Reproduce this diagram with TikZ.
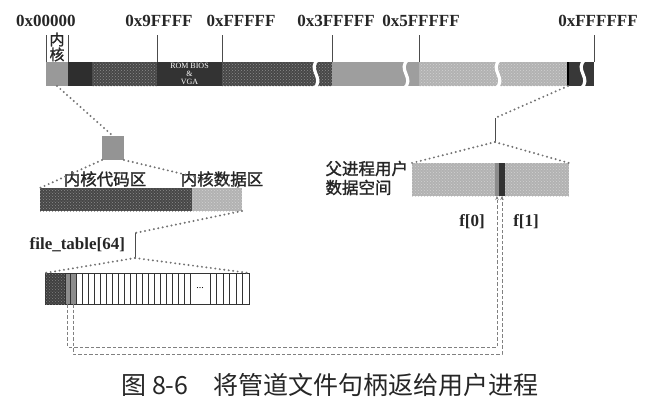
\documentclass[tikz,border=0pt]{standalone}
\usepackage{fontspec}
\setmainfont{Liberation Serif}
\newfontfamily\cjk{Noto Sans CJK SC}
\newfontfamily\cjkb[FakeBold=1.5]{Noto Sans CJK SC}
\usetikzlibrary{positioning,arrows.meta,patterns}

\newcommand{\gapwave}[1]{\draw[white, line width=3.2pt] ({#1+3},59) .. controls ({#1-11},69) and ({#1+11},79) .. ({#1-3},89);}

\begin{document}
\begin{tikzpicture}[x=1pt,y=-1pt]
\tikzstyle{every node}=[inner sep=0pt, outer sep=0pt]
\tikzstyle{seg}=[rectangle, anchor=north west, minimum height=24]
\tikzstyle{hseg}=[seg, fill=black!72, postaction={pattern=crosshatch dots, pattern color=black!45}]
\tikzstyle{lseg}=[seg, fill=black!30, postaction={pattern=crosshatch dots, pattern color=black!18}]
\tikzstyle{addr}=[font=\fontsize{17}{17}\selectfont\bfseries, text=black!85]
\tikzstyle{hz}=[font=\cjkb\fontsize{16.5}{19}\selectfont, text=black!85]
\tikzstyle{dotln}=[draw=black!55, line width=2.2pt, line cap=round, dash pattern=on 0pt off 4.5pt]
\tikzstyle{pipeln}=[draw=black!50, line width=0.7pt, dash pattern=on 3.5pt off 2pt, -{Stealth[length=4pt,width=3.5pt]}]
\tikzstyle{tickln}=[draw=black!70, line width=0.6pt]
\tikzstyle{fcell}=[rectangle, draw=black!80, line width=0.6pt, anchor=north west, minimum width=6, minimum height=31]
\useasboundingbox (0,0) rectangle (654,408);

% physical memory
\node[seg, fill=black!40, minimum width=22] (kern) at (46,62) {};
\node[seg, fill=black!82, minimum width=24] (kdark) at (68,62) {};
\node[hseg, minimum width=65] (lowmem) at (92,62) {};
\node[seg, fill=black!80, minimum width=65, text=white, align=center,
      font=\fontsize{8}{7.9}\selectfont] (rom) at (157,62) {ROM BIOS\\\&\\VGA};
\node[hseg, minimum width=110] (extlow) at (222,62) {};
\node[seg, fill=black!38, minimum width=87] (ext1) at (332,62) {};
\node[lseg, minimum width=149] (ext2) at (419,62) {};
\node[seg, fill=black!78, minimum width=26] (himem) at (568,62) {};
\draw[black, line width=1.2pt] (himem.north west) -- (himem.south west);
\foreach \x in {316,406,498,583}{\gapwave{\x}}

\foreach \x in {46,68,157,222,332,419,594}{\draw[tickln] (\x,35) -- (\x,62);}
\node[addr] (a0) at (46,21) {0x00000};
\node[addr] (a1) at (159,21) {0x9FFFF};
\node[addr] (a2) at (241,21) {0xFFFFF};
\node[addr] (a3) at (336,21) {0x3FFFFF};
\node[addr] (a4) at (421,21) {0x5FFFFF};
\node[addr] (a5) at (598,21) {0xFFFFFF};
\node[hz, align=center, font=\cjkb\fontsize{15}{15}\selectfont] (kname) at (57,47) {内\\核};

% kernel
\node[seg, fill=black!42, minimum width=22] (ksq) at (102,136) {};
\node[hseg, minimum width=152, minimum height=23] (kcode) at (40,188) {};
\node[lseg, minimum width=50, minimum height=23] (kdata) at (192,188) {};
\node[hz] (kcname) at (105,179) {内核代码区};
\node[hz] (kdname) at (222,179) {内核数据区};
\draw[dotln] (kern.south) -- (ksq.north);
\draw[dotln] (ksq.south west) -- (kcode.north west);
\draw[dotln] (ksq.south east) -- (kdata.north east);

% file_table
\coordinate (ft1) at (135,233);
\coordinate (ft2) at (135,258);
\draw[tickln] (ft1) -- (ft2);
\node[addr, anchor=east] (ftname) at (125,245) {file\_table[64]};
\draw[dotln] (kdata.south east) -- (ft1);
\node[rectangle, draw=black!80, line width=0.6pt, anchor=north west,
      minimum width=204, minimum height=31] (ftab) at (45,273) {};
\node[fcell, fill=black!75, postaction={pattern=crosshatch dots, pattern color=black!50}, minimum width=20] (fdark) at (45,273) {};
\node[fcell, fill=black!45, minimum width=5.5] (fz0) at (65,273) {};
\node[fcell, fill=black!45, minimum width=5.5] (fz1) at (70.5,273) {};
\foreach \i in {0,...,18}{\node[fcell] (fc\i) at ({76+6*\i},273) {};}
\node[fcell, minimum width=20, font=\fontsize{10}{10}\selectfont] (fdots) at (190,273) {...};
\foreach \i in {0,...,5}{\node[fcell, minimum width=6.5] (fd\i) at ({210+6.5*\i},273) {};}
\draw[dotln] (ft2) -- (ftab.north west);
\draw[dotln] (ft2) -- (ftab.north east);

% user data space
\coordinate (ut1) at (495,118);
\coordinate (ut2) at (495,142);
\draw[tickln] (ut1) -- (ut2);
\draw[dotln] (himem.south west) -- (ut1);
\node[lseg, minimum width=157, minimum height=33] (ubar) at (412,163) {};
\node[seg, fill=black!45, minimum width=4, minimum height=33] (pf0) at (495,163) {};
\node[seg, fill=black!80, minimum width=6, minimum height=33] (pf1) at (499,163) {};
\draw[dotln] (ut2) -- (ubar.north west);
\draw[dotln] (ut2) -- (ubar.north east);
\node[hz, align=left, anchor=east] (uname) at (408,178) {父进程用户\\数据空间};
\node[addr] (f0) at (472,222) {f[0]};
\node[addr] (f1) at (526,222) {f[1]};

% pipe handles
\coordinate (lowa) at (0,347);
\coordinate (lowb) at (0,354);
\draw[pipeln] (fz0.south) -- (fz0.south |- lowa) -| (pf0.south);
\draw[pipeln] (fz1.south) -- (fz1.south |- lowb) -| (pf1.south);

\node[font=\cjk\fontsize{25}{25}\selectfont, text=black!85] (cap) at (330,385) {图 8-6\hspace{1em}将管道文件句柄返给用户进程};
\end{tikzpicture}
\end{document}
